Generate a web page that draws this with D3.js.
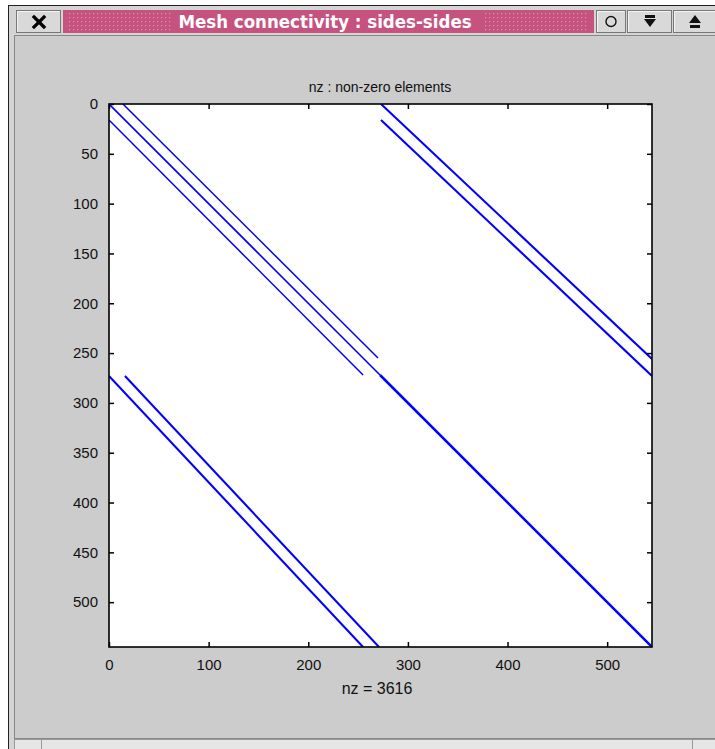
<!DOCTYPE html>
<html><head><meta charset="utf-8">
<script src="https://cdn.jsdelivr.net/npm/d3@7"></script>
<style>html,body{margin:0;padding:0;background:#fff;}svg{display:block;}</style>
</head><body>
<svg id="chart" width="715" height="749"></svg>
<script>
// ---- data ----
const windowTitle = "Mesh connectivity : sides-sides";
const plotTitle = "nz : non-zero elements";
const xLabel = "nz = 3616";
const matrixLimit = 545;
const xTicks = [0, 100, 200, 300, 400, 500];
const yTicks = [0, 50, 100, 150, 200, 250, 300, 350, 400, 450, 500];
// non-zero bands: start/end as [col, row]
const bandNames = ["main-upper", "main-lower", "super", "sub", "ur1", "ur2", "ll1", "ll2"];
const bandStartCol = [0, 272, 14, 0, 273, 273, 0, 16];
const bandStartRow = [0, 272, 0, 16, 0, 16, 273, 273];
const bandEndCol = [272, 545, 270, 255, 545, 545, 255, 271];
const bandEndRow = [272, 545, 255, 272, 256, 273, 545, 545];
const bandWeight = [1.6, 2.5, 1.5, 1.5, 2.1, 2.1, 2.1, 2.1];

const svg = d3.select("#chart");
const W = 715, H = 749;

// ---- window chrome ----
svg.append("rect").attr("x", 0).attr("y", 0).attr("width", W).attr("height", H).attr("fill", "#ffffff");
svg.append("rect").attr("x", 8.5).attr("y", 5.5).attr("width", W).attr("height", H).attr("fill", "#d4d4d4").attr("stroke", "#222").attr("stroke-width", 1);
// client area
svg.append("rect").attr("x", 14.5).attr("y", 35.5).attr("width", W).attr("height", 703).attr("fill", "#cccccc").attr("stroke", "#888").attr("stroke-width", 1);
// bottom strip
svg.append("rect").attr("x", 14.5).attr("y", 739.5).attr("width", W).attr("height", 12).attr("fill", "#e6e6e6").attr("stroke", "#999");
[41, 692].forEach(xx => svg.append("line").attr("x1", xx + 0.5).attr("x2", xx + 0.5).attr("y1", 740).attr("y2", 749).attr("stroke", "#999"));

// title bar
const defs = svg.append("defs");
const pat = defs.append("pattern").attr("id", "dots").attr("width", 4).attr("height", 4).attr("patternUnits", "userSpaceOnUse");
pat.append("rect").attr("width", 4).attr("height", 4).attr("fill", "#c6527f");
pat.append("rect").attr("x", 1).attr("y", 1).attr("width", 1.2).attr("height", 1.2).attr("fill", "#e590b0");
svg.append("rect").attr("x", 63).attr("y", 10).attr("width", 531).attr("height", 23).attr("fill", "#c6527f");
svg.append("rect").attr("x", 66).attr("y", 12).attr("width", 107).attr("height", 19).attr("fill", "url(#dots)");
svg.append("rect").attr("x", 484).attr("y", 12).attr("width", 105).attr("height", 19).attr("fill", "url(#dots)");
svg.append("text").attr("x", 325).attr("y", 27.5).attr("text-anchor", "middle")
  .attr("font-family", "'DejaVu Sans Condensed', 'Liberation Sans Narrow', sans-serif")
  .attr("font-weight", "bold").attr("font-size", 18.5).attr("fill", "#fff").text(windowTitle);

function button(bx0, w) {
  const g = svg.append("g");
  g.append("rect").attr("x", bx0 + 0.5).attr("y", 10.5).attr("width", w - 1).attr("height", 22).attr("fill", "#d9d9d9").attr("stroke", "#777");
  g.append("line").attr("x1", bx0 + 1.5).attr("x2", bx0 + w - 1.5).attr("y1", 11.5).attr("y2", 11.5).attr("stroke", "#f4f4f4");
  g.append("line").attr("x1", bx0 + 1.5).attr("x2", bx0 + 1.5).attr("y1", 11.5).attr("y2", 31.5).attr("stroke", "#f4f4f4");
  return g;
}
const bX = button(16, 45);
bX.append("path").attr("d", "M34,17 L44,27 M44,17 L34,27").attr("stroke", "#000").attr("stroke-width", 3.2).attr("stroke-linecap", "square");
const bO = button(596, 30);
bO.append("circle").attr("cx", 611).attr("cy", 21.5).attr("r", 5).attr("fill", "none").attr("stroke", "#111").attr("stroke-width", 1.4);
const bD = button(627, 45);
bD.append("rect").attr("x", 645).attr("y", 15).attr("width", 10).attr("height", 3).attr("fill", "#111");
bD.append("path").attr("d", "M644,19 L656,19 L650,27 Z").attr("fill", "#111");
const bU = button(673, 45);
bU.append("path").attr("d", "M689,23 L701,23 L695,15 Z").attr("fill", "#111");
bU.append("rect").attr("x", 690).attr("y", 25).attr("width", 10).attr("height", 3).attr("fill", "#111");

// ---- plot ----
const pLeft = 109, pTop = 104, pSize = 543;
const x = d3.scaleLinear().domain([0, matrixLimit]).range([pLeft, pLeft + pSize]);
const y = d3.scaleLinear().domain([0, matrixLimit]).range([pTop, pTop + pSize]);

svg.append("rect").attr("x", pLeft).attr("y", pTop).attr("width", pSize).attr("height", pSize).attr("fill", "#fff");

const bands = bandNames.map((n, i) => ({ n, c0: bandStartCol[i], r0: bandStartRow[i], c1: bandEndCol[i], r1: bandEndRow[i], w: bandWeight[i] }));
const clip = defs.append("clipPath").attr("id", "pclip");
clip.append("rect").attr("x", pLeft).attr("y", pTop).attr("width", pSize).attr("height", pSize);
svg.append("g").attr("clip-path", "url(#pclip)").selectAll("line").data(bands).join("line")
  .attr("x1", d => x(d.c0)).attr("y1", d => y(d.r0)).attr("x2", d => x(d.c1)).attr("y2", d => y(d.r1))
  .attr("stroke", "#0000ff").attr("stroke-width", d => d.w).attr("stroke-linecap", "butt");

const font = "'Liberation Sans', Arial, sans-serif";
const axB = svg.append("g").attr("transform", `translate(0,${pTop + pSize})`)
  .call(d3.axisBottom(x).tickValues(xTicks).tickSize(-5).tickPadding(12).tickFormat(d3.format("d")));
const axT = svg.append("g").attr("transform", `translate(0,${pTop})`)
  .call(d3.axisTop(x).tickValues(xTicks).tickSize(-5).tickFormat(""));
const axL = svg.append("g").attr("transform", `translate(${pLeft},0)`)
  .call(d3.axisLeft(y).tickValues(yTicks).tickSize(-5).tickPadding(11).tickFormat(d3.format("d")));
const axR = svg.append("g").attr("transform", `translate(${pLeft + pSize},0)`)
  .call(d3.axisRight(y).tickValues(yTicks).tickSize(-5).tickFormat(""));
[axB, axT, axL, axR].forEach(a => {
  a.select(".domain").remove();
  a.selectAll("line").attr("stroke", "#000").attr("stroke-width", 1.5);
  a.selectAll("text").attr("font-family", font).attr("font-size", 15).attr("fill", "#111");
});
svg.append("rect").attr("x", pLeft).attr("y", pTop).attr("width", pSize).attr("height", pSize)
  .attr("fill", "none").attr("stroke", "#000").attr("stroke-width", 1.6);

svg.append("text").attr("x", 380).attr("y", 92).attr("text-anchor", "middle")
  .attr("font-family", font).attr("font-size", 14).attr("fill", "#111").text(plotTitle);
svg.append("text").attr("x", 377).attr("y", 694).attr("text-anchor", "middle")
  .attr("font-family", font).attr("font-size", 16).attr("fill", "#111").text(xLabel);
</script>
</body></html>
